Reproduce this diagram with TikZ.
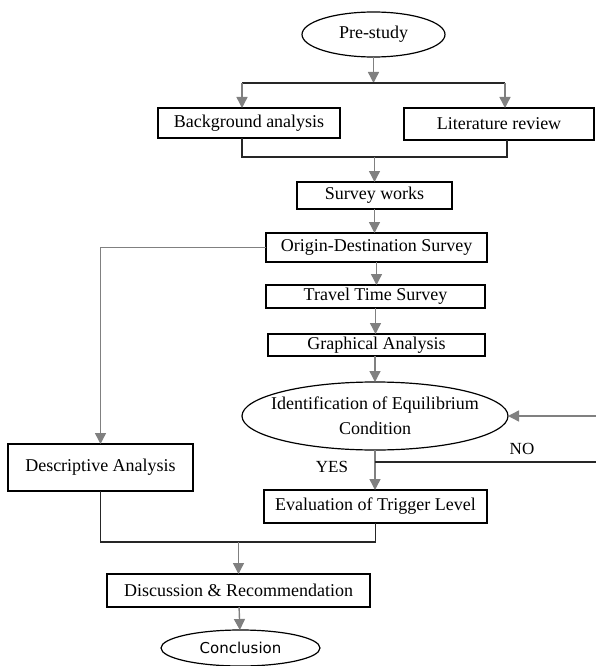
\documentclass[tikz,border=0pt]{standalone}
\usepackage{fontspec}
\setmainfont{Liberation Serif}
\newfontfamily\concfont{DejaVu Sans}
\usepackage{xcolor}
\usepackage{tikz}
\tikzset{
proc/.style={draw, line width=1.2pt, inner sep=0pt, outer sep=0pt, font=\fontsize{18}{25}\selectfont},
term/.style={draw, ellipse, line width=1.2pt, inner sep=0pt, outer sep=0pt, font=\fontsize{18}{25}\selectfont},
flow/.style = {-{Triangle[length=11pt, width=11pt]}, line width=1.4pt, gray},
link/.style = {line width=1.2pt, black!85},
answer/.style = {font=\fontsize{17}{20}\selectfont}
}
\usetikzlibrary{positioning, shapes.geometric, arrows.meta}

\begin{document}
\begin{tikzpicture}[x=1pt, y=1pt, node distance=24pt]
			\useasboundingbox (0,0) rectangle (596,-666);
			\node[term, minimum width=143pt, minimum height=45pt] (pre) at (373.5,-34.5) {Pre-study};
			\node[proc, minimum width=182pt, minimum height=30pt, below = 51pt of pre, xshift=-124.5pt] (bg) {Background analysis};
			\node[proc, minimum width=190pt, minimum height=32pt, right = 64pt of bg, yshift=-1pt] (lit) {Literature review};
			\node[proc, minimum width=155pt, minimum height=27pt, below = 125pt of pre, xshift=1pt] (sw) {Survey works};
			\node[proc, minimum width=221pt, minimum height=29pt, below = of sw, xshift=2pt] (od) {Origin-Destination Survey};
			\node[proc, minimum width=219pt, minimum height=23pt, below = 23pt of od, xshift=-1pt] (tt) {Travel Time Survey};
			\node[proc, minimum width=217pt, minimum height=22pt, below = 26pt of tt, xshift=1pt] (ga) {Graphical Analysis};
			\node[term, minimum width=266pt, minimum height=68pt, align=center, below = 26pt of ga, xshift=-1.5pt] (eq) {\makebox[0pt]{Identification of Equilibrium}\\Condition};
			\node[proc, minimum width=185pt, minimum height=47pt, left = 49pt of eq, yshift=-51.5pt] (da) {Descriptive Analysis};
			\node[proc, minimum width=223pt, minimum height=33pt, below = 40pt of eq, xshift=0.5pt] (et) {Evaluation of Trigger Level};
			\node[proc, minimum width=263pt, minimum height=33pt, below = 51pt of et, xshift=-137pt] (dr) {Discussion \& Recommendation};
			\node[term, minimum width=159pt, minimum height=36pt, below = 23pt of dr, xshift=2pt, font=\concfont\fontsize{15}{17}\selectfont] (con) {Conclusion};
			\node[answer] (yes) at (332,-467) {YES};
			\node[answer] (no) at (522,-449) {NO};
			% ----
			\coordinate (split) at (373.5,-83);
			\coordinate (splitL) at (242,-83);
			\coordinate (splitR) at (505,-83);
			\coordinate (joinL) at (242,-157);
			\coordinate (joinR) at (507,-157);
			\coordinate (join) at (374.5,-157);
			\coordinate (fork) at (375,-462);
			\coordinate (loopB) at (600,-462);
			\coordinate (loopT) at (600,-416);
			\coordinate (merge) at (238.5,-542);
			% ----
			\draw[flow] (pre) -- (split);
			\draw[link] (splitL) -- (splitR);
			\draw[flow] (splitL) -- (splitL |- bg.north);
			\draw[flow] (splitR) -- (splitR |- lit.north);
			\draw[link] (joinL |- bg.south) -- (joinL) -- (joinR) -- (joinR |- lit.south);
			\draw[flow] (join) -- (join |- sw.north);
			% ----
			\draw[flow] (sw.south) -- (sw.south |- od.north);
			\draw[flow] (od.west) -| (da.north);
			\draw[flow] (od.south) -- (od.south |- tt.north);
			\draw[flow] (tt.south) -- (tt.south |- ga.north);
			\draw[flow] (eq.north |- ga.south) -- (eq.north);
			% ----
			\draw[flow] (eq.south) -- (eq.south |- et.north);
			\draw[link] (fork) -- (loopB) -- (loopT);
			\draw[flow] (loopT) -- (eq.east);
			% ----
			\draw[link] (da.south) |- (merge) -| (et.south);
			\draw[flow] (merge) -- (merge |- dr.north);
			\draw[flow] (dr) -- (con);
		\end{tikzpicture}
\end{document}
